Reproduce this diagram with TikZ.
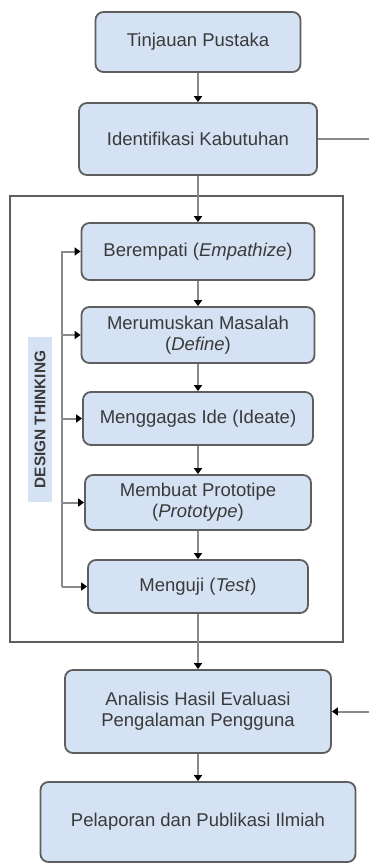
\documentclass[tikz,border=0pt]{standalone}
\usepackage{fontspec}
\setmainfont{Liberation Sans}
\usetikzlibrary{arrows.meta}
\definecolor{boxfill}{HTML}{D5E2F4}
\definecolor{boxline}{HTML}{5E5E5E}
\definecolor{conn}{HTML}{8A8A8A}
\definecolor{txt}{HTML}{3A3A3A}
\tikzset{
    RB/.style ={rectangle,rounded corners=8pt,draw=boxline,line width=1.8pt,fill=boxfill,
        text=txt,align=center,font=\fontsize{18.5}{21}\selectfont,inner sep=0pt},
    FR/.style ={rectangle,draw=boxline,line width=2pt,inner sep=0pt},
    LN/.style ={draw=conn,line width=2pt},
    AR/.style ={LN,-{Triangle[color=black,length=6pt,width=8pt]}}}
\begin{document}
\begin{tikzpicture}[x=1pt,y=1pt]
        \useasboundingbox (0,0) rectangle (369,-864);
        \node[FR,minimum width=333pt,minimum height=446pt] (0) at(176.5,-419){};
        \node[RB,minimum width=205pt,minimum height=60pt] (1) at(198,-42){Tinjauan Pustaka};
        \node[RB,minimum width=238pt,minimum height=72pt] (2) at(198,-139){Identifikasi Kabutuhan};
        \node[RB,minimum width=233pt,minimum height=57pt] (3) at(198,-251.5){Berempati (\textit{Empathize})};
        \node[RB,minimum width=233pt,minimum height=56pt] (4) at(198,-335){Merumuskan Masalah\\(\textit{Define})};
        \node[RB,minimum width=230pt,minimum height=53pt] (5) at(198,-418.5){Menggagas Ide (Ideate)};
        \node[RB,minimum width=226pt,minimum height=55pt] (6) at(198,-502.5){Membuat Prototipe\\(\textit{Prototype})};
        \node[RB,minimum width=220pt,minimum height=53pt] (7) at(198,-586.5){Menguji (\textit{Test})};
        \node[RB,minimum width=266pt,minimum height=83pt] (8) at(198,-711.5){Analisis Hasil Evaluasi\\Pengalaman Pengguna};
        \node[RB,minimum width=315pt,minimum height=80pt] (9) at(198,-822){Pelaporan dan Publikasi Ilmiah};
        \node[fill=boxfill,rotate=90,minimum width=165pt,minimum height=24pt,inner sep=0pt,
            text=txt,font=\bfseries\fontsize{15.4}{16}\selectfont] (dt) at(40,-419.5){DESIGN THINKING};
        \coordinate (fb) at(62,-586.5);
        \coordinate (r1) at(369,-139);
        \coordinate (r2) at(369,-711.5);
        \draw[AR] (1) --(2);
        \draw[AR] (2) --(3);
        \draw[AR] (3) --(4);
        \draw[AR] (4) --(5);
        \draw[AR] (5) --(6);
        \draw[AR] (6) --(7);
        \draw[AR] (7) --(8);
        \draw[AR] (8) --(9);
        \draw[AR] (fb) |-(3);
        \draw[AR] (fb) |-(4);
        \draw[AR] (fb) |-(5);
        \draw[AR] (fb) |-(6);
        \draw[AR] (fb) --(7);
        \draw[LN] (2) --(r1);
        \draw[AR] (r2) --(8);
    \end{tikzpicture}
\end{document}
